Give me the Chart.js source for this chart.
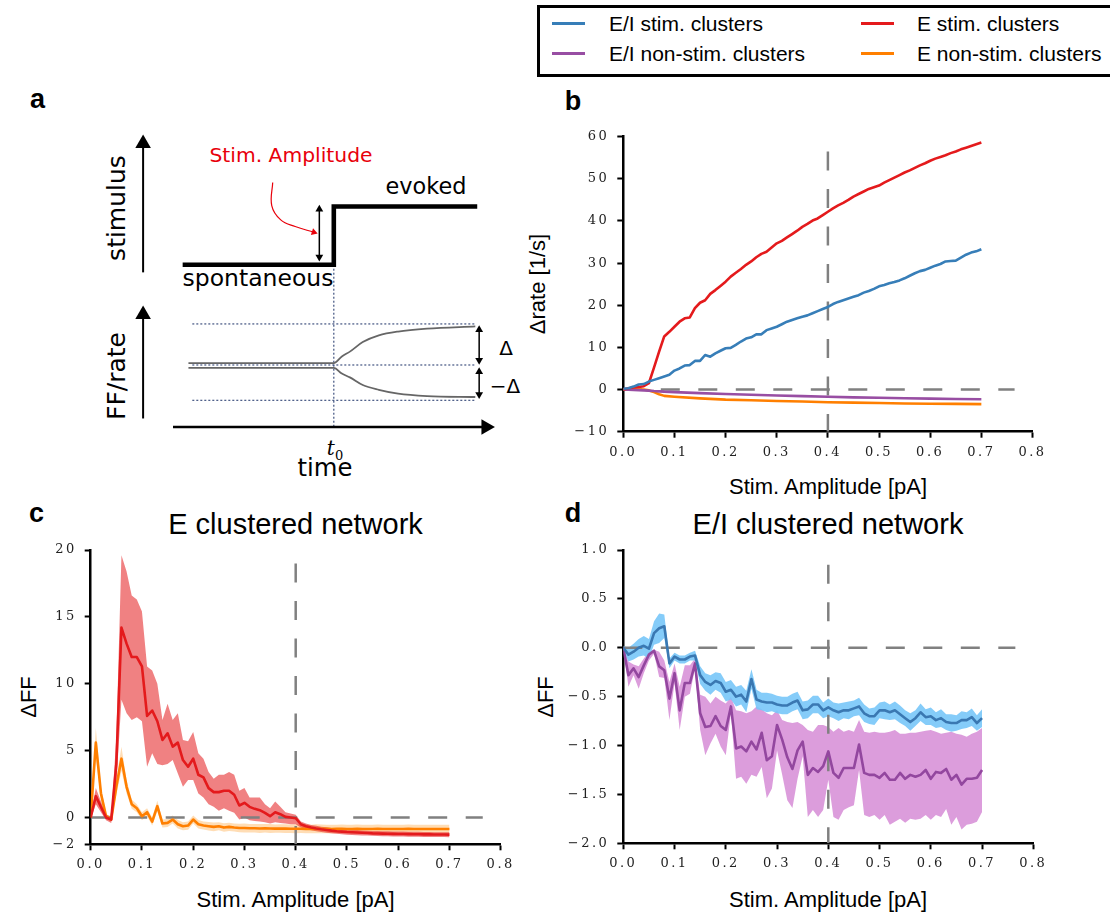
<!DOCTYPE html>
<html>
<head>
<meta charset="utf-8">
<title>Clustered networks - stimulus response</title>
<script src="https://cdn.jsdelivr.net/npm/chart.js"></script>
<style>
  html, body { margin: 0; padding: 0; background: #fff; }
  body { position: relative; width: 1110px; height: 913px; overflow: hidden;
         font-family: "Liberation Sans", Arial, sans-serif; color: #000; }
  canvas { position: absolute; }
  .lbl { position: absolute; transform: translate(-50%, -50%); line-height: 1; white-space: nowrap; }
  .rot { transform: translate(-50%, -50%) rotate(-90deg); }
  .panel { font-weight: bold; font-size: 27px; }
  .title { font-size: 29px; }
  .axlab { font-size: 22px; }
  .sch { font-family: "DejaVu Sans", sans-serif; }
  #legend { position: absolute; left: 537px; top: 5px; width: 600px; height: 72px;
            border: 3px solid #000; box-sizing: border-box; }
  .key { position: absolute; width: 33px; height: 3px; }
  .ktxt { position: absolute; font-size: 21px; line-height: 1; transform: translateY(-50%); white-space: nowrap; }
</style>
</head>
<body>

<!-- legend -->
<div id="legend"></div>
<div class="key" style="left:552px; top:22px; background:#377eb8"></div>
<div class="ktxt" style="left:609px; top:23px">E/I stim. clusters</div>
<div class="key" style="left:552px; top:52px; background:#984ea3"></div>
<div class="ktxt" style="left:609px; top:53px">E/I non-stim. clusters</div>
<div class="key" style="left:861px; top:22px; background:#e41a1c"></div>
<div class="ktxt" style="left:917px; top:23px">E stim. clusters</div>
<div class="key" style="left:861px; top:52px; background:#ff7f00"></div>
<div class="ktxt" style="left:917px; top:53px">E non-stim. clusters</div>

<!-- panel letters and titles -->
<div class="lbl panel" style="left:37.5px; top:98.5px">a</div>
<div class="lbl panel" style="left:573px; top:100.5px">b</div>
<div class="lbl panel" style="left:36.5px; top:512.5px">c</div>
<div class="lbl panel" style="left:573px; top:512.5px">d</div>
<div class="lbl title" style="left:295.5px; top:524px">E clustered network</div>
<div class="lbl title" style="left:828px; top:524px">E/I clustered network</div>

<!-- axis labels -->
<div class="lbl axlab" style="left:828px; top:487px">Stim. Amplitude [pA]</div>
<div class="lbl axlab" style="left:295.5px; top:900px">Stim. Amplitude [pA]</div>
<div class="lbl axlab" style="left:828px; top:900px">Stim. Amplitude [pA]</div>
<div class="lbl axlab rot" style="left:538px; top:284px">Δrate [1/s]</div>
<div class="lbl axlab rot" style="left:29px; top:697px">ΔFF</div>
<div class="lbl axlab rot" style="left:546px; top:697px">ΔFF</div>

<!-- schematic text (panel a) -->
<div class="lbl sch rot" style="left:116px; top:207.5px; font-size:25px">stimulus</div>
<div class="lbl sch rot" style="left:115.5px; top:375.5px; font-size:25px">FF/rate</div>
<div class="lbl sch" style="left:291px; top:154.7px; font-size:20.3px; color:#e8000b">Stim. Amplitude</div>
<div class="lbl sch" style="left:426px; top:185.5px; font-size:22.4px">evoked</div>
<div class="lbl sch" style="left:258px; top:278.6px; font-size:23.5px">spontaneous</div>
<div class="lbl sch" style="left:325px; top:467.6px; font-size:24.3px">time</div>
<div class="lbl" style="left:335px; top:450px; font-family:'DejaVu Serif',serif; font-size:20px"><i>t</i><sub style="font-size:13px">0</sub></div>
<div class="lbl sch" style="left:506px; top:348px; font-size:20px">Δ</div>
<div class="lbl sch" style="left:505px; top:386px; font-size:20px">−Δ</div>

<canvas id="chartA" width="520" height="400" style="left:0px; top:80px"></canvas>
<canvas id="chartB" width="560" height="370" style="left:540px; top:110px"></canvas>
<canvas id="chartC" width="530" height="350" style="left:0px; top:530px"></canvas>
<canvas id="chartD" width="560" height="350" style="left:540px; top:530px"></canvas>

<script>
/* ============================================================
   Stimulus response of E and E/I clustered networks
   ============================================================ */

// ---------- data ----------

// stimulus amplitudes [pA]
const amp = [
  0.00, 0.01, 0.02, 0.03, 0.04, 0.05, 0.06, 0.07, 0.08, 0.09,
  0.10, 0.11, 0.12, 0.13, 0.14, 0.15, 0.16, 0.17, 0.18, 0.19,
  0.20, 0.21, 0.22, 0.23, 0.24, 0.25, 0.26, 0.27, 0.28, 0.29,
  0.30, 0.31, 0.32, 0.33, 0.34, 0.35, 0.36, 0.37, 0.38, 0.39,
  0.40, 0.41, 0.42, 0.43, 0.44, 0.45, 0.46, 0.47, 0.48, 0.49,
  0.50, 0.51, 0.52, 0.53, 0.54, 0.55, 0.56, 0.57, 0.58, 0.59,
  0.60, 0.61, 0.62, 0.63, 0.64, 0.65, 0.66, 0.67, 0.68, 0.69,
  0.70
];
// coarser amplitudes for the smooth non-stimulated rate curves
const ampCoarse = [0, 0.02, 0.04, 0.05, 0.06, 0.07, 0.08, 0.10, 0.15, 0.20,
                   0.25, 0.30, 0.35, 0.40, 0.45, 0.50, 0.55, 0.60, 0.65, 0.70];

// panel b: delta rate [1/s]
const rateEStim = [
  0.0, 0.3, 0.5, 0.6, 0.8, 1.5, 5.2, 9.0, 12.6, 13.7,
  14.9, 16.1, 16.9, 17.1, 19.3, 20.6, 21.2, 22.7, 23.6, 24.6,
  25.6, 26.8, 27.7, 28.6, 29.6, 30.4, 31.4, 32.2, 32.7, 33.7,
  34.7, 35.3, 36.1, 36.9, 37.7, 38.6, 39.3, 40.1, 40.6, 41.4,
  42.2, 43.0, 43.7, 44.3, 45.0, 45.8, 46.4, 47.0, 47.6, 48.0,
  48.4, 49.1, 49.7, 50.3, 50.9, 51.5, 52.0, 52.6, 53.2, 53.7,
  54.3, 54.8, 55.2, 55.6, 56.1, 56.5, 57.0, 57.4, 57.8, 58.2,
  58.6
];
const rateEIStim = [
  0.2, 0.3, 0.7, 1.2, 1.3, 1.9, 2.3, 2.7, 3.1, 3.5,
  4.5, 5.0, 5.7, 5.8, 6.8, 6.8, 8.2, 7.8, 8.6, 9.2,
  9.8, 9.9, 10.6, 11.4, 12.1, 12.4, 13.1, 13.1, 14.1, 14.5,
  14.9, 15.5, 16.1, 16.5, 16.9, 17.3, 17.6, 18.1, 18.6, 19.1,
  19.6, 20.3, 20.8, 21.2, 21.6, 22.0, 22.4, 23.0, 23.4, 23.9,
  24.5, 24.8, 25.2, 25.5, 25.9, 26.4, 27.0, 27.6, 28.1, 28.4,
  28.9, 29.4, 29.8, 30.4, 30.5, 30.6, 31.3, 32.0, 32.5, 32.8,
  33.3
];
const rateEINon = [0, -0.1, -0.2, -0.25, -0.35, -0.42, -0.5, -0.6, -0.85, -1.05,
                   -1.25, -1.4, -1.55, -1.7, -1.85, -1.95, -2.05, -2.15, -2.25, -2.3];
const rateENon = [0, 0, 0, -0.2, -0.6, -1.1, -1.5, -1.7, -2.1, -2.4,
                  -2.55, -2.7, -2.85, -3.0, -3.1, -3.2, -3.3, -3.35, -3.4, -3.45];

// panel c: delta FF, E clustered network
const ffEStim = [
  0.00, 1.60, 0.80, 0.00, -0.15, 4.00, 14.20, 13.00, 12.00, 12.00,
  11.30, 7.60, 8.00, 7.20, 5.80, 6.30, 5.30, 5.60, 4.30, 3.80,
  4.40, 3.20, 3.00, 2.20, 1.90, 1.90, 2.00, 2.00, 1.70, 0.90,
  1.10, 0.80, 0.65, 0.55, 0.35, 0.10, 0.40, 0.25, 0.05, 0.00,
  -0.05, -0.50, -0.65, -0.75, -0.82, -0.88, -0.93, -0.98, -1.02, -1.05,
  -1.08, -1.10, -1.12, -1.14, -1.16, -1.18, -1.19, -1.20, -1.21, -1.22,
  -1.23, -1.23, -1.24, -1.25, -1.25, -1.26, -1.26, -1.27, -1.27, -1.27,
  -1.28
];
const ffEStimHi = [
  0.10, 2.20, 1.20, 0.20, 0.10, 6.00, 19.60, 18.40, 16.60, 16.30,
  15.40, 11.30, 11.00, 10.00, 7.30, 8.50, 7.30, 7.80, 5.80, 5.70,
  6.40, 4.80, 4.40, 3.40, 2.90, 3.20, 3.20, 3.40, 3.20, 2.00,
  2.20, 1.50, 1.50, 1.50, 1.00, 0.70, 1.20, 0.80, 0.40, 0.30,
  0.20, -0.30, -0.45, -0.55, -0.62, -0.68, -0.73, -0.78, -0.82, -0.86,
  -0.89, -0.92, -0.94, -0.96, -0.98, -1.00, -1.01, -1.02, -1.03, -1.04,
  -1.05, -1.05, -1.06, -1.07, -1.07, -1.08, -1.08, -1.09, -1.09, -1.09,
  -1.10
];
const ffEStimLo = [
  -0.10, 1.00, 0.40, -0.20, -0.40, 2.50, 8.80, 7.80, 7.30, 7.50,
  7.20, 3.80, 4.80, 4.00, 3.90, 4.00, 4.30, 3.30, 2.30, 2.80,
  2.80, 1.80, 1.50, 1.00, 0.80, 0.50, 0.70, 0.50, 0.35, -0.15,
  0.00, -0.20, -0.25, -0.30, -0.35, -0.45, -0.35, -0.40, -0.45, -0.50,
  -0.50, -0.75, -0.85, -0.95, -1.02, -1.08, -1.13, -1.18, -1.22, -1.25,
  -1.28, -1.30, -1.32, -1.34, -1.35, -1.37, -1.38, -1.39, -1.40, -1.41,
  -1.42, -1.42, -1.43, -1.44, -1.44, -1.45, -1.45, -1.46, -1.46, -1.46,
  -1.47
];
const ffENon = [
  0.00, 5.60, 1.80, 0.10, -0.15, 2.30, 4.40, 2.30, 1.00, 0.70,
  0.10, 0.40, -0.30, 0.85, -0.45, -0.40, -0.15, -0.50, -0.65, -0.60,
  -0.15, -0.50, -0.60, -0.65, -0.70, -0.65, -0.75, -0.70, -0.75, -0.78,
  -0.78, -0.80, -0.80, -0.82, -0.80, -0.82, -0.83, -0.82, -0.83, -0.84,
  -0.84, -0.84, -0.85, -0.85, -0.84, -0.85, -0.85, -0.86, -0.85, -0.85,
  -0.86, -0.86, -0.85, -0.86, -0.86, -0.86, -0.85, -0.86, -0.86, -0.86,
  -0.86, -0.86, -0.85, -0.86, -0.86, -0.86, -0.86, -0.86, -0.86, -0.86,
  -0.86
];
const ffENonErr = [
  0.05, 1.10, 0.50, 0.20, 0.15, 0.60, 0.90, 0.50, 0.35, 0.30,
  0.30, 0.30, 0.30, 0.40, 0.30, 0.30, 0.30, 0.31, 0.30, 0.31,
  0.30, 0.32, 0.30, 0.31, 0.33, 0.30, 0.32, 0.31, 0.30, 0.32,
  0.33, 0.32, 0.31, 0.33, 0.32, 0.33, 0.31, 0.32, 0.33, 0.32,
  0.33, 0.32, 0.33, 0.32, 0.33, 0.33, 0.32, 0.33, 0.32, 0.33,
  0.32, 0.33, 0.33, 0.32, 0.33, 0.32, 0.33, 0.33, 0.32, 0.33,
  0.33, 0.32, 0.33, 0.33, 0.32, 0.33, 0.33, 0.32, 0.33, 0.33,
  0.32
];

// panel d: delta FF, E/I clustered network
const ffEIStim = [
  0.00, -0.07, -0.04, 0.00, 0.02, -0.01, 0.15, 0.20, 0.22, -0.16,
  -0.09, -0.12, -0.12, -0.09, -0.08, -0.28, -0.35, -0.38, -0.34, -0.36,
  -0.45, -0.43, -0.50, -0.48, -0.55, -0.32, -0.53, -0.55, -0.56, -0.56,
  -0.58, -0.59, -0.59, -0.56, -0.54, -0.64, -0.63, -0.58, -0.58, -0.64,
  -0.61, -0.64, -0.66, -0.64, -0.64, -0.62, -0.60, -0.67, -0.70, -0.70,
  -0.64, -0.64, -0.66, -0.64, -0.68, -0.72, -0.76, -0.72, -0.66, -0.71,
  -0.70, -0.74, -0.72, -0.76, -0.77, -0.77, -0.74, -0.74, -0.71, -0.77,
  -0.72
];
const ffEIStimErr = [
  0.02, 0.07, 0.08, 0.09, 0.10, 0.10, 0.12, 0.15, 0.12, 0.05,
  0.04, 0.04, 0.04, 0.04, 0.05, 0.09, 0.09, 0.10, 0.09, 0.10,
  0.10, 0.10, 0.10, 0.10, 0.11, 0.10, 0.10, 0.09, 0.10, 0.09,
  0.09, 0.09, 0.09, 0.09, 0.09, 0.09, 0.09, 0.09, 0.09, 0.08,
  0.09, 0.08, 0.09, 0.08, 0.09, 0.08, 0.09, 0.09, 0.08, 0.09,
  0.08, 0.09, 0.08, 0.09, 0.09, 0.08, 0.09, 0.08, 0.09, 0.08,
  0.09, 0.08, 0.09, 0.08, 0.09, 0.08, 0.09, 0.08, 0.09, 0.08,
  0.09
];
const ffEINon = [
  0.00, -0.28, -0.21, -0.30, -0.18, -0.07, -0.03, -0.19, -0.23, -0.52,
  -0.26, -0.64, -0.36, -0.36, -0.16, -0.67, -0.81, -0.80, -0.70, -0.80,
  -0.84, -0.60, -1.03, -1.01, -1.06, -0.96, -1.04, -0.87, -1.15, -1.11,
  -0.79, -0.94, -1.12, -1.24, -1.05, -0.96, -1.30, -1.23, -1.27, -1.21,
  -1.06, -1.28, -1.33, -1.23, -1.23, -1.23, -0.99, -1.28, -1.30, -1.30,
  -1.33, -1.28, -1.35, -1.35, -1.28, -1.34, -1.30, -1.32, -1.30, -1.25,
  -1.34, -1.27, -1.28, -1.24, -1.35, -1.30, -1.40, -1.34, -1.34, -1.33,
  -1.25
];
const ffEINonHi = [
  0.00, -0.14, -0.17, -0.19, -0.11, -0.04, -0.02, -0.04, -0.13, -0.35,
  -0.16, -0.40, -0.18, -0.18, -0.11, -0.48, -0.50, -0.57, -0.50, -0.54,
  -0.57, -0.50, -0.64, -0.65, -0.67, -0.65, -0.60, -0.63, -0.67, -0.69,
  -0.64, -0.74, -0.76, -0.77, -0.76, -0.79, -0.84, -0.86, -0.79, -0.79,
  -0.81, -0.86, -0.82, -0.86, -0.84, -0.86, -0.74, -0.86, -0.87, -0.86,
  -0.87, -0.87, -0.86, -0.84, -0.88, -0.88, -0.87, -0.87, -0.86, -0.85,
  -0.84, -0.86, -0.88, -0.87, -0.86, -0.88, -0.89, -0.91, -0.88, -0.86,
  -0.82
];
const ffEINonLo = [
  0.00, -0.40, -0.28, -0.42, -0.26, -0.13, -0.06, -0.30, -0.31, -0.74,
  -0.36, -0.84, -0.50, -0.47, -0.21, -0.84, -1.10, -0.98, -0.88, -1.01,
  -1.10, -0.67, -1.34, -1.32, -1.39, -1.30, -1.32, -1.22, -1.54, -1.44,
  -1.05, -1.30, -1.56, -1.64, -1.34, -1.11, -1.73, -1.66, -1.73, -1.66,
  -1.35, -1.73, -1.76, -1.66, -1.63, -1.61, -1.25, -1.71, -1.73, -1.71,
  -1.76, -1.71, -1.81, -1.78, -1.75, -1.79, -1.75, -1.76, -1.75, -1.71,
  -1.76, -1.71, -1.73, -1.65, -1.81, -1.73, -1.86, -1.81, -1.80, -1.78,
  -1.68
];

// reference lines: zero level and the 0.4 pA amplitude
const zeroLineX = [0, 0.765];
const markAmp = 0.4;

// tick values
const xTicks = [0, 0.1, 0.2, 0.3, 0.4, 0.5, 0.6, 0.7, 0.8];
const bTicksY = [-10, 0, 10, 20, 30, 40, 50, 60];
const cTicksY = [-2, 0, 5, 10, 15, 20];
const dTicksY = [-2, -1.5, -1, -0.5, 0, 0.5, 1];

// panel a schematic (time units with t0 = 0, arbitrary level units)
const axisT = -5.93;
const stimArrowY = [16.2, 29.7];
const rateArrowY = [0.9, 11.8];
const timeArrowT = [-5.0, 4.73];
const stepT = [-4.7, 0, 0, 4.46];
const stepY = [17, 17, 23.1, 23.1];
const onsetY = [17, 0];
const guideT = [-4.4, 4.4];
const guideLevels = [10.8, 6.5, 2.8];
const respT = [-4.52, 0, 0.25, 0.5, 0.9, 1.4, 2.0, 2.9, 4.4];
const respUp = [6.7, 6.7, 7.4, 7.9, 8.9, 9.6, 10.0, 10.3, 10.55];
const respDown = [6.2, 6.2, 5.6, 5.2, 4.4, 3.9, 3.5, 3.25, 3.15];
const ampArrowT = -0.45, ampArrowY = [22.8, 17.8];
const deltaT = 4.52, deltaUpY = [10.2, 7.0], deltaDownY = [5.8, 3.4];
const curlT = [-1.9, -1.93, -1.65, -1.2, -0.62];
const curlY = [25.6, 23.2, 21.7, 21.0, 20.4];

// ---------- helpers ----------

const BLUE = '#377eb8', RED = '#e41a1c', PURPLE = '#984ea3', ORANGE = '#ff7f00';
const DASH_GREY = '#808080';

function pts(xs, ys) {
  return xs.map((x, i) => ({ x: x, y: ys[i] }));
}

function lineSet(xs, ys, color) {
  return { data: pts(xs, ys), borderColor: color, borderWidth: 2.6, borderJoinStyle: 'round',
           pointRadius: 0, fill: false };
}

function bandSets(xs, lo, hi, color) {
  return [
    { data: pts(xs, lo), borderWidth: 0, pointRadius: 0, fill: false },
    { data: pts(xs, hi), borderWidth: 0, pointRadius: 0, fill: '-1', backgroundColor: color }
  ];
}

function dashSets(yMin, yTop) {
  const style = { borderColor: DASH_GREY, borderWidth: 2.5, borderDash: [19, 18.5], pointRadius: 0, fill: false };
  return [
    Object.assign({ data: pts(zeroLineX, [0, 0]) }, style),
    Object.assign({ data: pts([markAmp, markAmp], [yTop, yMin]) }, style)
  ];
}

function minusSign(s) { return s.replace('-', '\u2212'); }

// wider spacing for the serif tick labels
const tickSpacing = {
  id: 'tickSpacing',
  beforeDraw(chart) { chart.ctx.letterSpacing = '2.5px'; }
};

function makePanel(id, p, datasets) {
  const tickFont = { family: 'DejaVu Serif', size: 13 };
  const gridOpts = { display: true, drawOnChartArea: false, drawTicks: true,
                     tickLength: 6, tickWidth: 2, tickColor: '#000' };
  return new Chart(document.getElementById(id), {
    type: 'line',
    data: { datasets: datasets },
    plugins: [tickSpacing],
    options: {
      responsive: false, animation: false, events: [], devicePixelRatio: 1,
      layout: { padding: { left: 0, top: p.padTop, right: p.padRight, bottom: 0 } },
      plugins: { legend: { display: false }, tooltip: { enabled: false },
                 filler: { drawTime: 'beforeDatasetsDraw' } },
      scales: {
        x: {
          type: 'linear', min: 0, max: 0.8,
          border: { display: true, color: '#000', width: 2.5 },
          grid: gridOpts,
          afterBuildTicks: ax => { ax.ticks = xTicks.map(v => ({ value: v })); },
          ticks: { autoSkip: false, maxRotation: 0, padding: 7, color: '#222', font: tickFont,
                   callback: v => Number(v).toFixed(1) },
          afterFit: s => { s.height = p.xHeight; }
        },
        y: {
          type: 'linear', min: p.yMin, max: p.yMax,
          border: { display: true, color: '#000', width: 2.5 },
          grid: gridOpts,
          afterBuildTicks: ax => { ax.ticks = p.yTicks.map(v => ({ value: v })); },
          ticks: { autoSkip: false, padding: 8, color: '#222', font: tickFont, callback: p.yFmt },
          afterFit: s => { s.width = p.yWidth; }
        }
      }
    }
  });
}

// ---------- panel a: schematic ----------

function schemLine(xs, ys, color, width, dash, smooth) {
  return { data: pts(xs, ys), showLine: true, borderColor: color, borderWidth: width,
           borderDash: dash || [], pointRadius: 0, tension: smooth ? 0.4 : 0,
           cubicInterpolationMode: smooth === 'mono' ? 'monotone' : 'default' };
}

function schemArrow(xs, ys, color, width, r, heads, smooth) {
  return { data: pts(xs, ys), showLine: true, borderColor: color, borderWidth: width,
           tension: smooth ? 0.4 : 0, pointStyle: 'triangle',
           pointRadius: heads.map(h => h === null ? 0 : r),
           pointRotation: heads.map(h => h || 0),
           pointBackgroundColor: color, pointBorderColor: color, pointBorderWidth: 0 };
}

const GUIDE = 'rgba(45,65,115,0.9)';
const schemSets = [
  schemArrow([axisT, axisT], stimArrowY, '#000', 2, 9, [null, 0]),
  schemArrow([axisT, axisT], rateArrowY, '#000', 2, 9, [null, 0]),
  schemArrow(timeArrowT, [0, 0], '#000', 2.5, 9, [null, 90]),
  schemLine(stepT, stepY, '#000', 4.6),
  schemArrow([ampArrowT, ampArrowT], ampArrowY, '#000', 1.5, 4.5, [0, 180]),
  schemArrow([deltaT, deltaT], deltaUpY, '#000', 1.5, 4.5, [0, 180]),
  schemArrow([deltaT, deltaT], deltaDownY, '#000', 1.5, 4.5, [0, 180]),
  schemArrow(curlT, curlY, '#e8000b', 1.2, 4, [null, null, null, null, 108], true),
  schemLine(respT, respUp, '#666', 1.8, null, 'mono'),
  schemLine(respT, respDown, '#666', 1.8, null, 'mono'),
  schemLine([0, 0], onsetY, GUIDE, 1.2, [2, 2])
].concat(guideLevels.map(lv => schemLine(guideT, [lv, lv], GUIDE, 1.2, [2, 2])));

new Chart(document.getElementById('chartA'), {
  type: 'scatter',
  data: { datasets: schemSets },
  options: {
    responsive: false, animation: false, events: [], devicePixelRatio: 1,
    layout: { padding: 0 },
    plugins: { legend: { display: false }, tooltip: { enabled: false } },
    scales: {
      x: { type: 'linear', display: false, min: -10.1, max: 5.51 },
      y: { type: 'linear', display: false, min: -4.6, max: 35.4 }
    }
  }
});

// ---------- panel b: rates ----------

makePanel('chartB',
  { padTop: 26.7, padRight: 67.5, xHeight: 48.3, yWidth: 83.3, yMin: -10, yMax: 60,
    yTicks: bTicksY, yFmt: v => minusSign(String(v)) },
  [
    lineSet(amp, rateEIStim, BLUE),
    lineSet(amp, rateEStim, RED),
    lineSet(ampCoarse, rateEINon, PURPLE),
    lineSet(ampCoarse, rateENon, ORANGE)
  ].concat(dashSets(-10, 56.5))
);

// ---------- panel c: FF, E clustered ----------

makePanel('chartC',
  { padTop: 20, padRight: 29.3, xHeight: 35.7, yWidth: 90.7, yMin: -2, yMax: 20,
    yTicks: cTicksY, yFmt: v => minusSign(String(v)) },
  [
    lineSet(amp, ffEStim, RED),
    lineSet(amp, ffENon, ORANGE)
  ].concat(dashSets(-2, 19))
   .concat(bandSets(amp, ffEStimLo, ffEStimHi, 'rgba(228,26,28,0.55)'))
   .concat(bandSets(amp, ffENon.map((v, i) => v - ffENonErr[i]),
                         ffENon.map((v, i) => v + ffENonErr[i]), 'rgba(255,170,70,0.4)'))
);

// ---------- panel d: FF, E/I clustered ----------

makePanel('chartD',
  { padTop: 20, padRight: 66.7, xHeight: 36.7, yWidth: 83.3, yMin: -2, yMax: 1,
    yTicks: dTicksY, yFmt: v => minusSign(Number(v).toFixed(1)) },
  [
    lineSet(amp, ffEIStim, '#3a78b2'),
    lineSet(amp, ffEINon, '#93479f')
  ].concat(dashSets(-2, 0.85))
   .concat(bandSets(amp, ffEIStim.map((v, i) => v - ffEIStimErr[i]),
                         ffEIStim.map((v, i) => v + ffEIStimErr[i]), 'rgba(120,198,248,0.9)'))
   .concat(bandSets(amp, ffEINonLo, ffEINonHi, 'rgba(218,152,218,0.95)'))
);
</script>
</body>
</html>
